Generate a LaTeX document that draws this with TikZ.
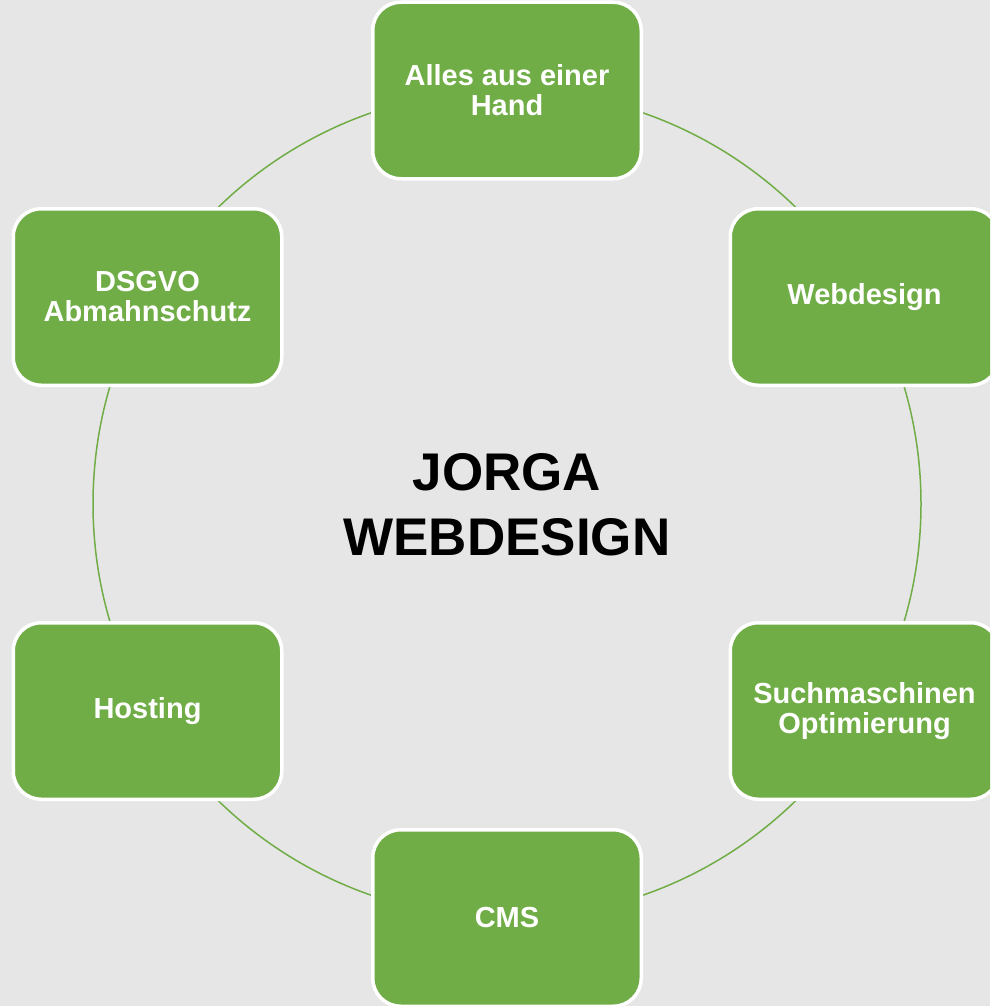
\documentclass[tikz,border=0pt]{standalone}
\usepackage{fontspec}
\setmainfont{Liberation Sans}
\definecolor{bg}{HTML}{E7E6E6}
\definecolor{leaf}{HTML}{70AD47}
\begin{document}
\begin{tikzpicture}[x=1pt,y=-1pt,
  item/.style={rectangle, rounded corners=28pt, fill=leaf, draw=white, line width=3.5pt,
    minimum width=268.5pt, minimum height=176.5pt, align=center, text=white,
    font=\fontsize{29}{30}\selectfont\bfseries, inner sep=0pt},
  title/.style={align=center, font=\fontsize{53}{65}\selectfont\bfseries, text=black}]
\fill[bg] (0,0) rectangle (990,1006);
\useasboundingbox (0,0) rectangle (990,1006);
\clip (0,0) rectangle (990,1006);
\coordinate (c) at (507,504);
\draw[leaf, line width=1.5pt] (c) circle[radius=414];
\node[title] (t) at (507,505) {JORGA\\WEBDESIGN};
\node[item] (n1) at (507,90.5) {Alles aus einer\\Hand};
\node[item] (n2) at (864.5,297) {Webdesign};
\node[item] (n3) at (864.5,711) {Suchmaschinen\\Optimierung};
\node[item] (n4) at (507,918) {CMS};
\node[item] (n5) at (147.5,711) {Hosting};
\node[item] (n6) at (147.5,297) {DSGVO\\Abmahnschutz};
\end{tikzpicture}
\end{document}
